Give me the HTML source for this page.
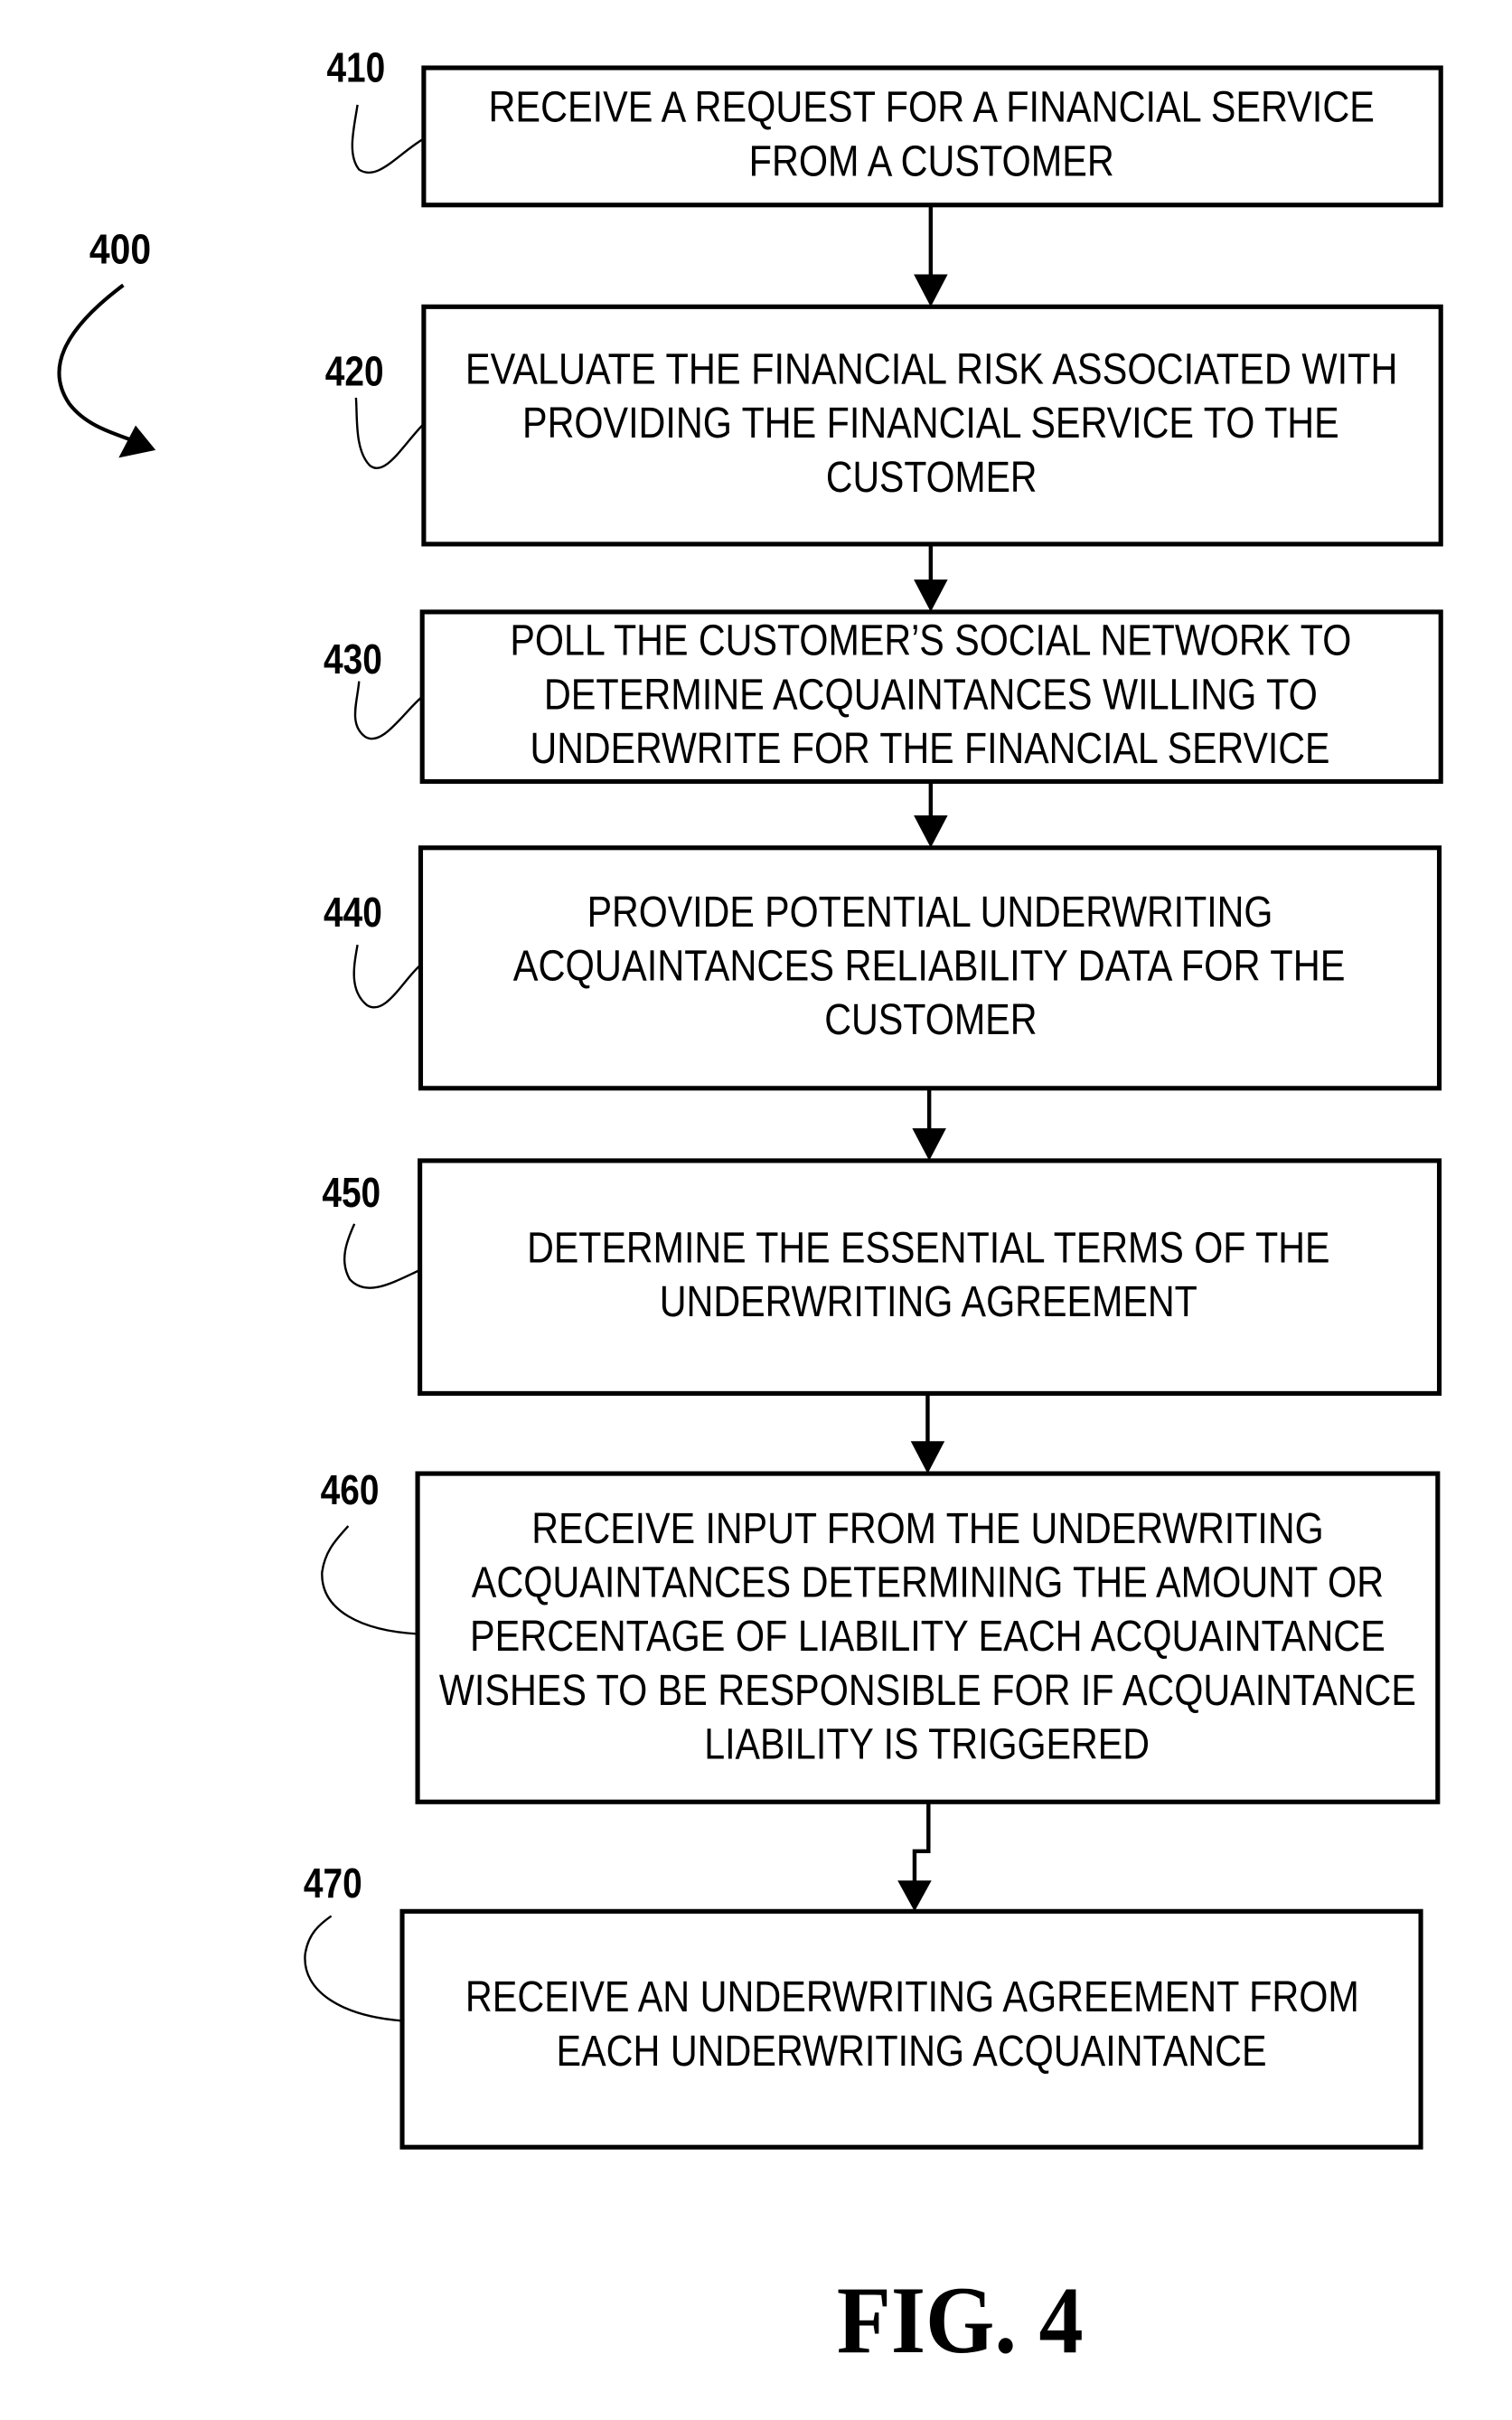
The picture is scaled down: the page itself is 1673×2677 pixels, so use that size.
<!DOCTYPE html>
<html><head><meta charset="utf-8"><style>
html,body{margin:0;padding:0;background:#fff;}
svg{display:block;}
.t{font-family:"Liberation Sans Narrow","Liberation Sans",sans-serif;font-size:28px;fill:#000;}
.l{font-family:"Liberation Sans Narrow","Liberation Sans",sans-serif;font-size:27px;font-weight:bold;fill:#000;}
</style></head><body>
<svg width="1673" height="2677" viewBox="0 0 981.2 1570" preserveAspectRatio="none" xmlns="http://www.w3.org/2000/svg">
<g fill="none" stroke="#000" stroke-width="3">
<rect x="275" y="44" width="660" height="89"/>
<rect x="275" y="199" width="660" height="154"/>
<rect x="274" y="397" width="661" height="110"/>
<rect x="273" y="550" width="661" height="156"/>
<rect x="272.5" y="753" width="661.5" height="151"/>
<rect x="271" y="956" width="662" height="213"/>
<rect x="261" y="1240" width="661" height="153"/>
</g>
<g stroke="#000" stroke-width="2.6" fill="none">
<line x1="604" y1="133" x2="604" y2="180"/>
<line x1="604" y1="353" x2="604" y2="378"/>
<line x1="604" y1="507" x2="604" y2="531"/>
<line x1="603" y1="706" x2="603" y2="734"/>
<line x1="602" y1="904" x2="602" y2="937"/>
<polyline points="602.5,1169 602.5,1201 593.5,1201 593.5,1222"/>
</g>
<g fill="#000">
<polygon points="593,178 615,178 604,199"/>
<polygon points="593,376 615,376 604,397"/>
<polygon points="593,529 615,529 604,550"/>
<polygon points="592,732 614,732 603,753"/>
<polygon points="591,935 613,935 602,956"/>
<polygon points="582.5,1220 604.5,1220 593.5,1240"/>
</g>
<g stroke="#000" stroke-width="1.4" fill="none">
<path d="M275,90 C258,100 245,118 233,110 C225,100 230,82 232,68"/>
<path d="M275,275 C262,288 250,310 240,302 C230,292 232,270 231,258"/>
<path d="M274,452 C262,462 248,485 237,478 C226,470 232,455 233,442"/>
<path d="M273,626 C262,635 250,660 238,652 C226,642 230,625 232,613"/>
<path d="M272.5,824 C255,832 238,842 227,830 C220,818 225,805 230,794"/>
<path d="M271,1060 C235,1058 208,1045 209,1020 C211,1005 220,997 226,990"/>
<path d="M261,1311 C222,1308 196,1292 198,1268 C200,1254 208,1248 215,1243"/>
</g>
<path d="M80,185 C40,215 30,240 45,262 C55,275 70,280 84,285" stroke="#000" stroke-width="2.4" fill="none"/>
<polygon points="77,297 101,292 88,276" fill="#000"/>
<g class="l">
<text x="212" y="53" textLength="38" lengthAdjust="spacingAndGlyphs">410</text>
<text x="58" y="171" textLength="40" lengthAdjust="spacingAndGlyphs">400</text>
<text x="211" y="250" textLength="38" lengthAdjust="spacingAndGlyphs">420</text>
<text x="210" y="437" textLength="38" lengthAdjust="spacingAndGlyphs">430</text>
<text x="210" y="601" textLength="38" lengthAdjust="spacingAndGlyphs">440</text>
<text x="209" y="783" textLength="38" lengthAdjust="spacingAndGlyphs">450</text>
<text x="208" y="976" textLength="38" lengthAdjust="spacingAndGlyphs">460</text>
<text x="197" y="1231" textLength="38" lengthAdjust="spacingAndGlyphs">470</text>
</g>
<g class="t">
<text x="317" y="79" textLength="575" lengthAdjust="spacingAndGlyphs">RECEIVE A REQUEST FOR A FINANCIAL SERVICE</text>
<text x="486" y="114" textLength="237" lengthAdjust="spacingAndGlyphs">FROM A CUSTOMER</text>
<text x="302" y="249" textLength="605" lengthAdjust="spacingAndGlyphs">EVALUATE THE FINANCIAL RISK ASSOCIATED WITH</text>
<text x="339" y="284" textLength="530" lengthAdjust="spacingAndGlyphs">PROVIDING THE FINANCIAL SERVICE TO THE</text>
<text x="536" y="319" textLength="137" lengthAdjust="spacingAndGlyphs">CUSTOMER</text>
<text x="331" y="425" textLength="546" lengthAdjust="spacingAndGlyphs">POLL THE CUSTOMER’S SOCIAL NETWORK TO</text>
<text x="353" y="460" textLength="502" lengthAdjust="spacingAndGlyphs">DETERMINE ACQUAINTANCES WILLING TO</text>
<text x="344" y="495" textLength="519" lengthAdjust="spacingAndGlyphs">UNDERWRITE FOR THE FINANCIAL SERVICE</text>
<text x="381" y="601" textLength="445" lengthAdjust="spacingAndGlyphs">PROVIDE POTENTIAL UNDERWRITING</text>
<text x="333" y="636" textLength="540" lengthAdjust="spacingAndGlyphs">ACQUAINTANCES RELIABILITY DATA FOR THE</text>
<text x="535" y="671" textLength="138" lengthAdjust="spacingAndGlyphs">CUSTOMER</text>
<text x="342" y="819" textLength="521" lengthAdjust="spacingAndGlyphs">DETERMINE THE ESSENTIAL TERMS OF THE</text>
<text x="428" y="854" textLength="349" lengthAdjust="spacingAndGlyphs">UNDERWRITING AGREEMENT</text>
<text x="345" y="1001" textLength="514" lengthAdjust="spacingAndGlyphs">RECEIVE INPUT FROM THE UNDERWRITING</text>
<text x="306" y="1036" textLength="592" lengthAdjust="spacingAndGlyphs">ACQUAINTANCES DETERMINING THE AMOUNT OR</text>
<text x="305" y="1071" textLength="594" lengthAdjust="spacingAndGlyphs">PERCENTAGE OF LIABILITY EACH ACQUAINTANCE</text>
<text x="285" y="1106" textLength="634" lengthAdjust="spacingAndGlyphs">WISHES TO BE RESPONSIBLE FOR IF ACQUAINTANCE</text>
<text x="457" y="1141" textLength="289" lengthAdjust="spacingAndGlyphs">LIABILITY IS TRIGGERED</text>
<text x="302" y="1305" textLength="580" lengthAdjust="spacingAndGlyphs">RECEIVE AN UNDERWRITING AGREEMENT FROM</text>
<text x="361" y="1340" textLength="461" lengthAdjust="spacingAndGlyphs">EACH UNDERWRITING ACQUAINTANCE</text>
</g>
<text x="543" y="1526" textLength="160" lengthAdjust="spacingAndGlyphs" style="font-family:'Liberation Serif',serif;font-weight:bold;font-size:62px;">FIG. 4</text>
</svg>
</body></html>
